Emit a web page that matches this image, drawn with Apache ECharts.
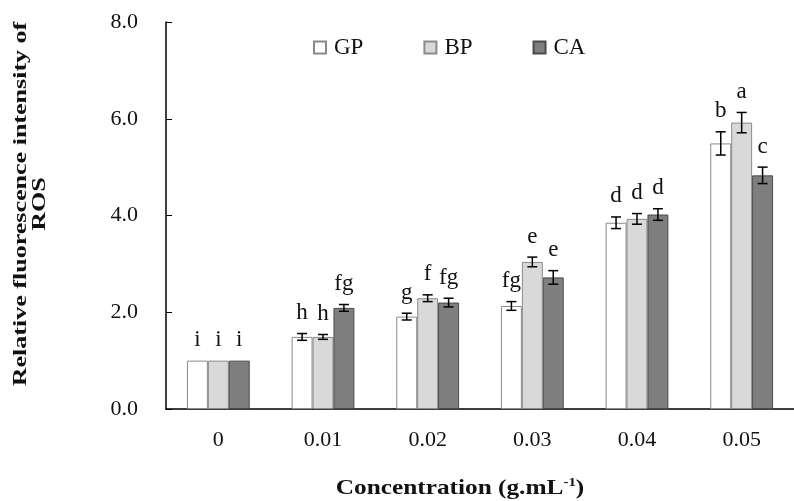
<!DOCTYPE html>
<html>
<head>
<meta charset="utf-8">
<script src="https://cdn.jsdelivr.net/npm/echarts@6/dist/echarts.min.js"></script>
<style>
html, body { margin: 0; padding: 0; background: #fff; }
#main { width: 794px; height: 501px; }
</style>
</head>
<body>
<div id="main"></div>
<script>
var serif = "'Times New Roman', 'Liberation Serif', serif";

// 浓度分组
var categories = ['0', '0.01', '0.02', '0.03', '0.04', '0.05'];
// 三组数据均值
var gpValues = [1.0, 1.49, 1.91, 2.13, 3.85, 5.49];
var bpValues = [1.0, 1.49, 2.29, 3.04, 3.93, 5.92];
var caValues = [1.0, 2.09, 2.20, 2.72, 4.02, 4.83];
// 误差
var gpErr = [0, 0.07, 0.07, 0.09, 0.12, 0.24];
var bpErr = [0, 0.05, 0.07, 0.10, 0.11, 0.21];
var caErr = [0, 0.07, 0.09, 0.14, 0.12, 0.17];
// 显著性字母
var gpSig = ['i', 'h', 'g', 'fg', 'd', 'b'];
var bpSig = ['i', 'h', 'f', 'e', 'd', 'a'];
var caSig = ['i', 'fg', 'fg', 'e', 'd', 'c'];
var yTicks = [0, 2, 4, 6, 8];

function errData(vals, errs, sigs) {
	var out = [];
	for(var i = 0; i < vals.length; i++) {
		out.push([i, vals[i], errs[i], sigs[i]]);
	}
	return out;
}

// 误差线 + 字母
function errSeries(name, vals, errs, sigs, k) {
	return {
		name: name + '_err',
		type: 'custom',
		z: 5,
		data: errData(vals, errs, sigs),
		encode: { x: 0, y: 1 },
		renderItem: function(params, api) {
			var band = api.size([1, 0])[0];
			var base = api.coord([api.value(0), api.value(1)]);
			var x = base[0] + (k - 1) * band * 0.2;
			var e = api.value(2);
			var hi = api.coord([api.value(0), api.value(1) + e])[1];
			var lo = api.coord([api.value(0), api.value(1) - e])[1];
			var cap = 5;
			var children = [];
			if(e > 0) {
				var ls = { stroke: '#000', lineWidth: 1.5 };
				children.push({ type: 'line', shape: { x1: x, y1: hi, x2: x, y2: lo }, style: ls });
				children.push({ type: 'line', shape: { x1: x - cap, y1: hi, x2: x + cap, y2: hi }, style: ls });
				children.push({ type: 'line', shape: { x1: x - cap, y1: lo, x2: x + cap, y2: lo }, style: ls });
			}
			children.push({
				type: 'text',
				style: {
					text: api.value(3),
					x: x,
					y: hi - 9,
					textAlign: 'center',
					textVerticalAlign: 'bottom',
					font: '23px ' + serif,
					fill: '#111'
				}
			});
			return { type: 'group', children: children };
		}
	};
}

var option = {
	backgroundColor: '#fff',
	animation: false,
	grid: {
		left: 166,
		right: -5,
		top: 22,
		bottom: 92
	},
	legend: {
		data: ['GP', 'BP', 'CA'],
		left: 313,
		top: 36,
		padding: 0,
		itemWidth: 12,
		itemHeight: 12,
		itemGap: 60,
		icon: 'rect',
		textStyle: {
			fontFamily: serif,
			fontSize: 23,
			color: '#111',
			padding: [0, 0, 0, 3]
		}
	},
	xAxis: {
		type: 'category',
		data: categories,
		axisLine: { lineStyle: { color: '#000', width: 1.5 } },
		axisTick: { inside: true, length: 5, lineStyle: { color: '#000' } },
		axisLabel: {
			fontFamily: serif,
			fontSize: 22,
			color: '#111',
			margin: 20
		}
	},
	yAxis: {
		type: 'value',
		min: yTicks[0],
		max: yTicks[yTicks.length - 1],
		interval: 2,
		axisLine: { show: true, lineStyle: { color: '#000', width: 1.5 } },
		axisTick: { show: true, inside: true, length: 6, lineStyle: { color: '#000' } },
		splitLine: { show: false },
		axisLabel: {
			fontFamily: serif,
			fontSize: 22,
			color: '#111',
			margin: 28,
			formatter: function(v) { return v.toFixed(1); }
		}
	},
	graphic: [{
		type: 'text',
		x: 31,
		y: 204,
		rotation: Math.PI / 2,
		scaleX: 1.37,
		style: {
			text: 'Relative fluorescence intensity of\nROS',
			font: 'bold 19px ' + serif,
			fill: '#111',
			textAlign: 'center',
			textVerticalAlign: 'middle',
			lineHeight: 19
		}
	}, {
		type: 'text',
		x: 460,
		y: 488,
		scaleX: 1.15,
		style: {
			rich: {
				t: { font: 'bold 22px ' + serif, fill: '#111' },
				s: { font: 'bold 13px ' + serif, fill: '#111', verticalAlign: 'top', padding: [0, 0, 10, 0] }
			},
			text: '{t|Concentration (g.mL}{s|-1}{t|)}',
			textAlign: 'center',
			textVerticalAlign: 'middle'
		}
	}],
	series: [{
		name: 'GP',
		type: 'bar',
		data: gpValues,
		barWidth: '20%',
		barGap: '0%',
		itemStyle: { color: '#ffffff', borderColor: '#8a8a8a', borderWidth: 1 }
	}, {
		name: 'BP',
		type: 'bar',
		data: bpValues,
		barWidth: '20%',
		barGap: '0%',
		itemStyle: { color: '#d9d9d9', borderColor: '#8a8a8a', borderWidth: 1 }
	}, {
		name: 'CA',
		type: 'bar',
		data: caValues,
		barWidth: '20%',
		barGap: '0%',
		itemStyle: { color: '#7f7f7f', borderColor: '#4a4a4a', borderWidth: 1 }
	},
		errSeries('GP', gpValues, gpErr, gpSig, 0),
		errSeries('BP', bpValues, bpErr, bpSig, 1),
		errSeries('CA', caValues, caErr, caSig, 2)
	]
};

var chart = echarts.init(document.getElementById('main'));
chart.setOption(option);
</script>
</body>
</html>
